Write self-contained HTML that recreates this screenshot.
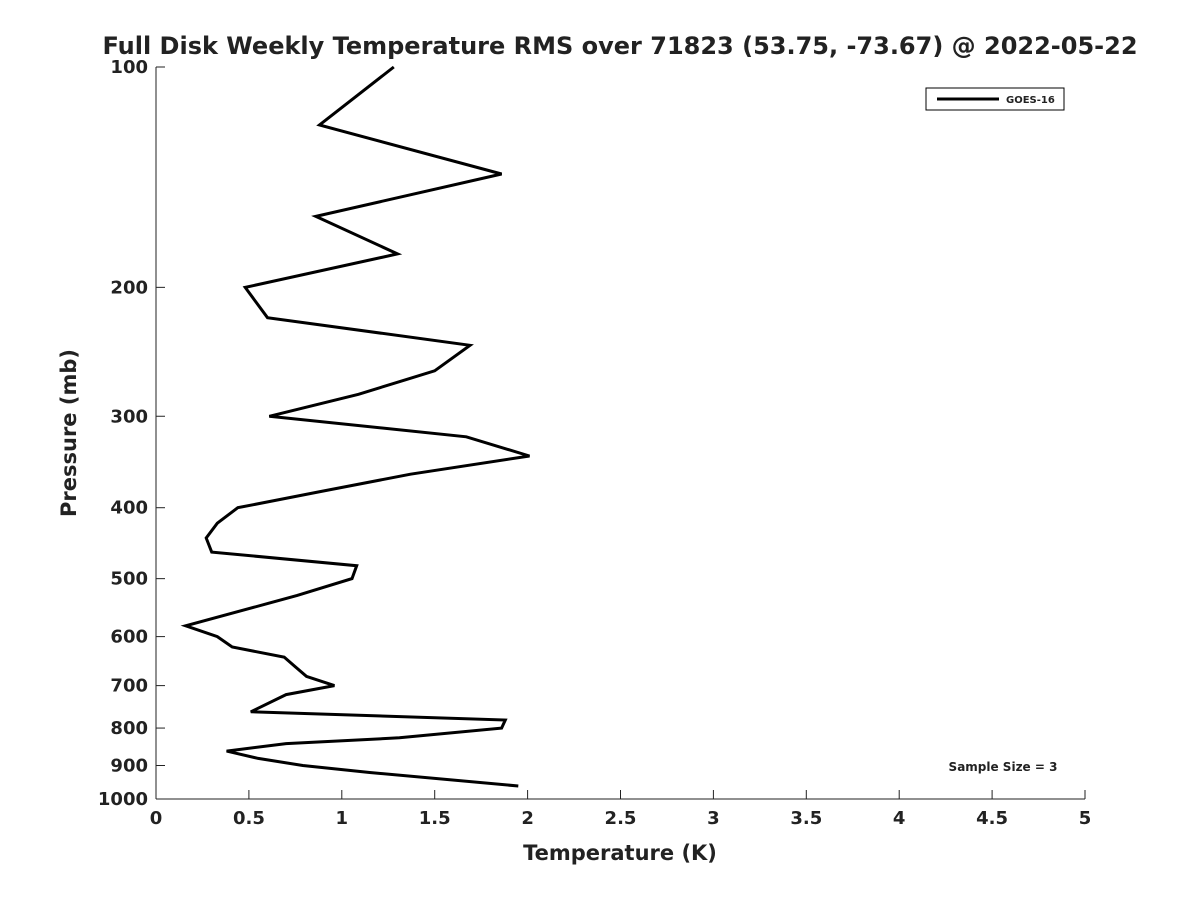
<!DOCTYPE html>
<html><head><meta charset="utf-8"><style>
body{margin:0;background:#fff}
svg text{font-family:"DejaVu Sans","Liberation Sans",sans-serif;font-weight:bold;fill:#222}
</style></head><body>
<svg id="chart" width="1200" height="900" xmlns="http://www.w3.org/2000/svg">
<rect width="1200" height="900" fill="#fff"/>
<text x="620" y="54" text-anchor="middle" font-size="24" fill="#111">Full Disk Weekly Temperature RMS over 71823 (53.75, -73.67) @ 2022-05-22</text>
<g id="axes"></g>
<text x="620" y="860" text-anchor="middle" font-size="21">Temperature (K)</text>
<text transform="translate(76,433) rotate(-90)" text-anchor="middle" font-size="21">Pressure (mb)</text>
<g>
<rect x="926" y="88" width="138" height="22" fill="#fff" stroke="#000" stroke-width="1"/>
<line x1="937" y1="99" x2="999" y2="99" stroke="#000" stroke-width="3"/>
<text x="1006" y="103" font-size="10" fill="#111">GOES-16</text>
</g>
<text x="1003" y="771" text-anchor="middle" font-size="12" fill="#111">Sample Size = 3</text>
</svg>
<script>
const pressures=[100,120,140,160,180,200,220,240,260,280,300,320,340,360,380,400,420,440,460,480,500,527,540,580,600,620,640,660,680,700,720,760,780,800,825,840,860,880,900,920,960];
const temps=[1.28,0.88,1.86,0.86,1.30,0.48,0.60,1.69,1.50,1.09,0.61,1.67,2.01,1.37,0.89,0.44,0.33,0.27,0.30,1.08,1.055,0.76,0.61,0.16,0.33,0.41,0.69,0.75,0.81,0.96,0.70,0.51,1.88,1.86,1.31,0.70,0.38,0.55,0.79,1.15,1.95];
const xTicks=[0,0.5,1,1.5,2,2.5,3,3.5,4,4.5,5];
const yTicks=[100,200,300,400,500,600,700,800,900,1000];
const X0=156,X1=1085,Y0=67,Y1=799;
const xs=v=>X0+(v-0)/(5-0)*(X1-X0);
const ys=p=>Y0+(Math.log10(p)-2)/(3-2)*(Y1-Y0);
const NS="http://www.w3.org/2000/svg";
const svg=document.getElementById('chart');
const g=document.getElementById('axes');
function mk(t,a){const e=document.createElementNS(NS,t);for(const k in a)e.setAttribute(k,a[k]);return e;}
let ax=mk('line',{x1:X0,y1:Y1,x2:X1,y2:Y1,stroke:'#222','stroke-width':1});


g.appendChild(ax);
let ay=mk('line',{x1:X0,y1:Y0,x2:X0,y2:Y1,stroke:'#222','stroke-width':1});


g.appendChild(ay);
xTicks.forEach(v=>{const x=xs(v);
 const t=mk('line',{x1:x,y1:Y1,x2:x,y2:Y1-9,stroke:'#222'});
 
 
 g.appendChild(t);
 const l=mk('text',{x:x,y:Y1+25,'text-anchor':'middle','font-size':18});l.textContent=String(v);
 
 
 g.appendChild(l);});
yTicks.forEach(v=>{const y=ys(v);
 const t=mk('line',{x1:X0,y1:y,x2:X0+9,y2:y,stroke:'#222'});
 
 
 g.appendChild(t);
 const l=mk('text',{x:X0-8,y:y+6,'text-anchor':'end','font-size':18});l.textContent=String(v);
 
 
 g.appendChild(l);});
const pts=pressures.map((p,i)=>xs(temps[i]).toFixed(1)+','+ys(p).toFixed(1)).join(' ');
const line=mk('polyline',{points:pts,fill:'none',stroke:'#000','stroke-width':3,'stroke-linejoin':'miter'});


svg.appendChild(line);
</script>
</body></html>
